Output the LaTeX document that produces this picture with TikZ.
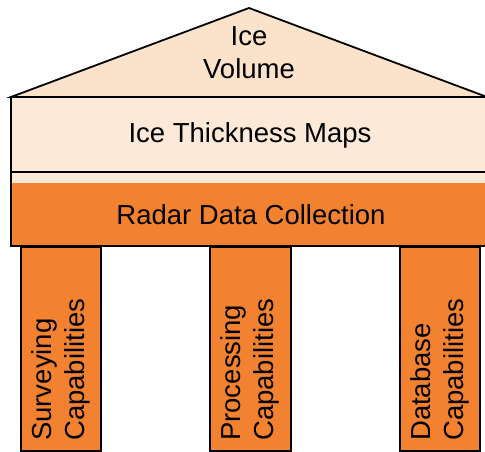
\documentclass[tikz,border=0pt]{standalone}
\usepackage{fontspec}
\setmainfont{Liberation Sans}
\definecolor{roofpeach}{RGB}{251,226,203}
\definecolor{mappeach}{RGB}{252,233,216}
\definecolor{pillarorange}{RGB}{242,130,48}
\begin{document}
\begin{tikzpicture}[x=1pt,y=-1pt,
  outline/.style={draw=black,line width=1.8pt,line join=miter},
  lbl/.style={font=\fontsize{27.5}{33}\selectfont,text=black,align=center,inner sep=0pt},
  pillartext/.style={font=\fontsize{27.5}{33}\selectfont,text=black,align=left,inner sep=0pt,rotate=90,anchor=west}]
\useasboundingbox (0,0) rectangle (485,452);
\clip (0,0) rectangle (485,452);
% roof
\path[outline,fill=roofpeach] (11,97) -- (249,8) -- (487,97) -- cycle;
% thickness maps band
\path[outline,fill=mappeach] (11,97) rectangle (490,172);
% radar band
\path[fill=mappeach] (11,172) rectangle (490,246);
\path[fill=pillarorange] (11,183) rectangle (490,246);
\path[outline] (11,172) rectangle (490,246);
% pillars
\path[outline,fill=pillarorange] (21,247) rectangle (101,451);
\path[outline,fill=pillarorange] (210,247) rectangle (291,451);
\path[outline,fill=pillarorange] (400,247) rectangle (480,451);
% texts
\node[lbl] (vol) at (249,53) {Ice\\Volume};
\node[lbl] (maps) at (250,135) {Ice Thickness Maps};
\node[lbl] (radar) at (251,215) {Radar Data Collection};
\node[pillartext] (surv) at (61,441) {Surveying\\Capabilities};
\node[pillartext] (proc) at (250,441) {Processing\\Capabilities};
\node[pillartext] (dbase) at (440,441) {Database\\Capabilities};
\end{tikzpicture}
\end{document}
